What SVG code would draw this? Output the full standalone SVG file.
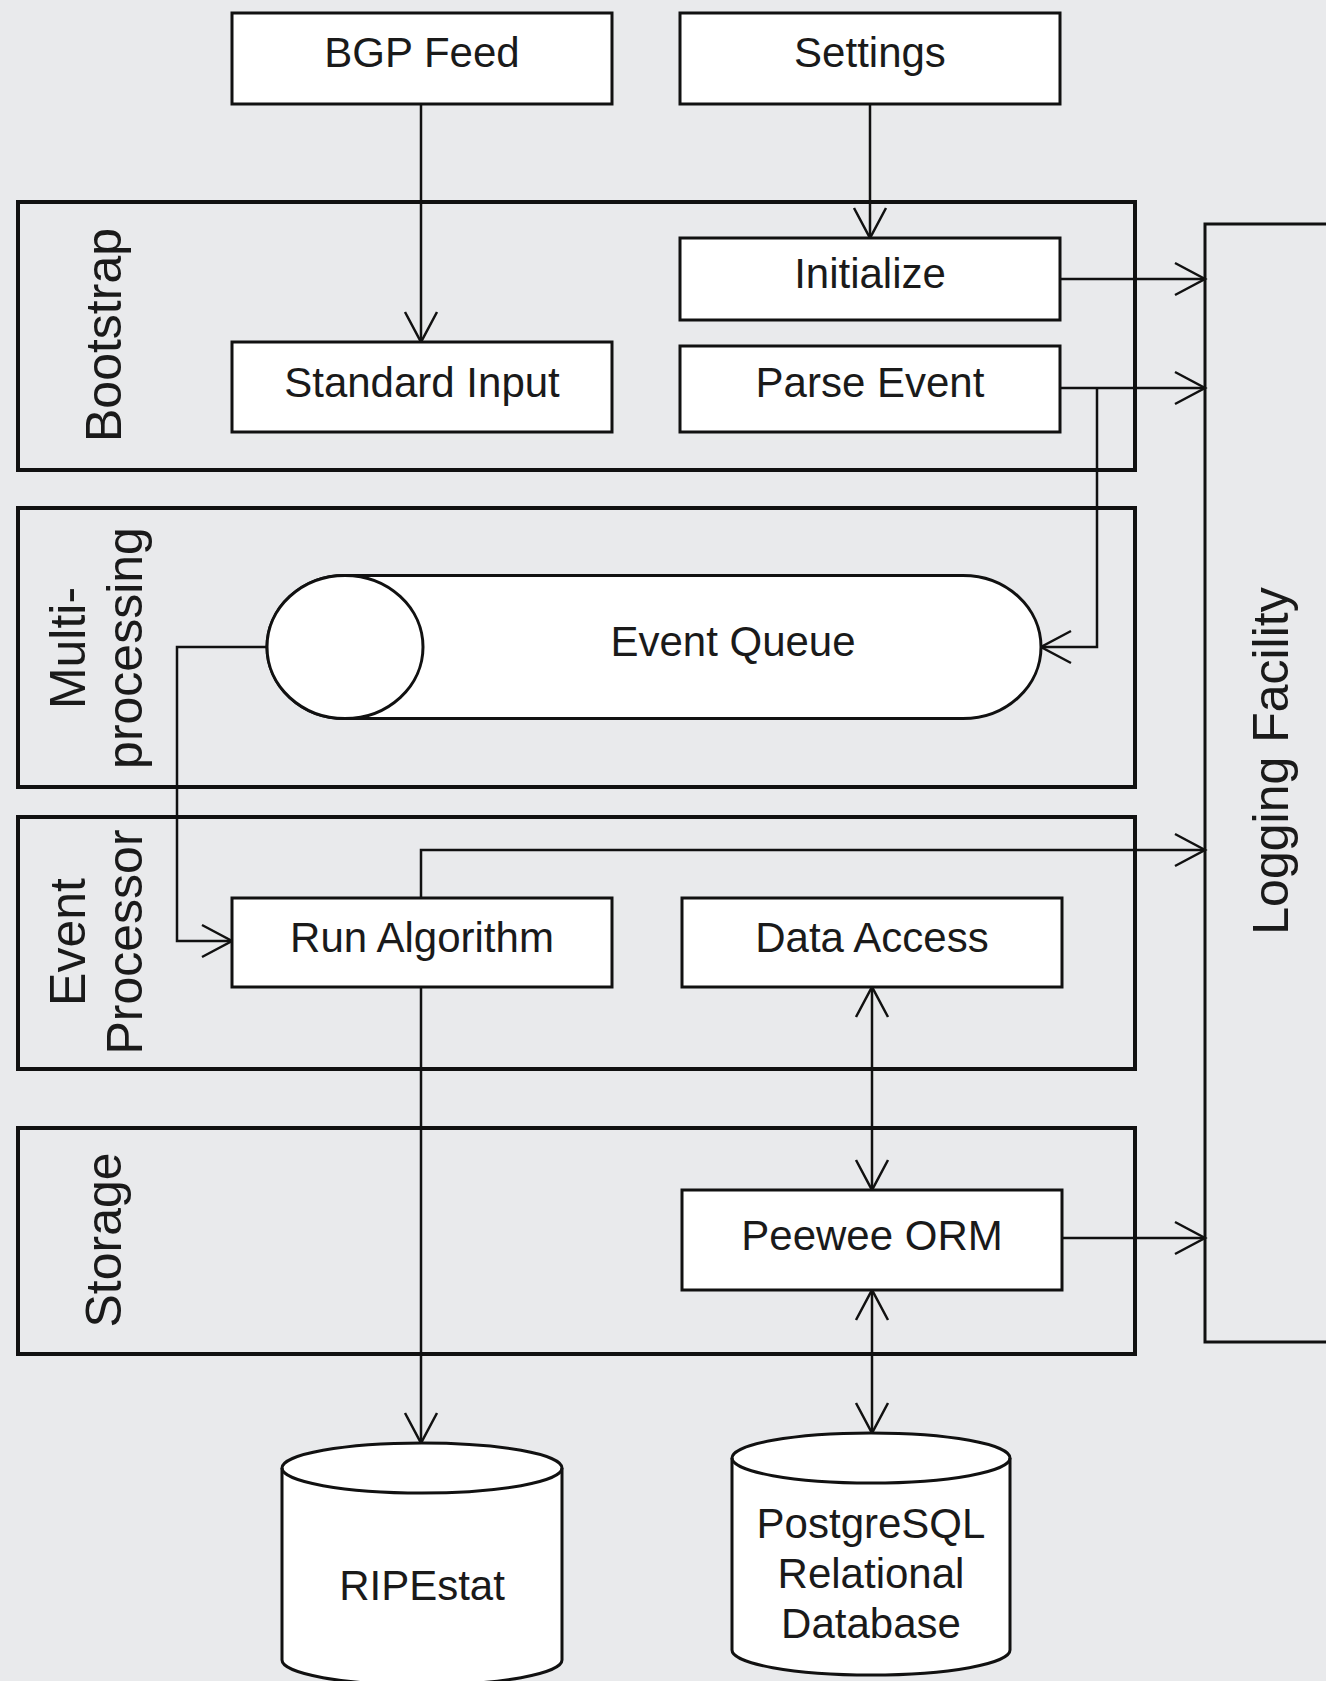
<svg xmlns="http://www.w3.org/2000/svg" width="1326" height="1681" viewBox="0 0 1326 1681">
<defs>
<style>
.bg{fill:#e9eaec}
.cont{fill:none;stroke:#111;stroke-width:4}
.box{fill:#fff;stroke:#111;stroke-width:3}
.lbl{font-family:"Liberation Sans",Arial,sans-serif;font-size:42px;fill:#1a1a1a;text-anchor:middle}
.sec{font-family:"Liberation Sans",Arial,sans-serif;font-size:50px;fill:#1a1a1a;text-anchor:middle}
.con{fill:none;stroke:#111;stroke-width:2.5}
.arr{marker-end:url(#ah)}
.bi{marker-start:url(#ah);marker-end:url(#ah)}
</style>
<marker id="ah" viewBox="-33 -19 36 38" refX="0" refY="0" markerWidth="36" markerHeight="38" markerUnits="userSpaceOnUse" orient="auto-start-reverse">
<path d="M-30,-16 L0,0 L-30,16" fill="none" stroke="#111" stroke-width="2.5"/>
</marker>
</defs>
<rect class="bg" x="0" y="0" width="1326" height="1681"/>

<g id="bootstrap">
<rect class="cont" x="18" y="202" width="1117" height="268"/>
<text class="sec" transform="translate(121,335) rotate(-90)">Bootstrap</text>
</g>
<g id="multiprocessing">
<rect class="cont" x="18" y="508" width="1117" height="279"/>
<text class="sec" transform="translate(85,648) rotate(-90)">Multi-</text>
<text class="sec" transform="translate(142,648) rotate(-90)">processing</text>
</g>
<g id="eventprocessor">
<rect class="cont" x="18" y="817" width="1117" height="252"/>
<text class="sec" transform="translate(85,942) rotate(-90)">Event</text>
<text class="sec" transform="translate(142,942) rotate(-90)">Processor</text>
</g>
<g id="storage">
<rect class="cont" x="18" y="1128" width="1117" height="226"/>
<text class="sec" transform="translate(121,1240) rotate(-90)">Storage</text>
</g>

<g id="connectors">
<path class="con arr" d="M421,104 L421,342"/>
<path class="con arr" d="M870,104 L870,238"/>
<path class="con arr" d="M1060,279 L1205,279"/>
<path class="con arr" d="M1060,388 L1205,388"/>
<path class="con arr" d="M1097,388 L1097,647 L1041,647"/>
<path class="con arr" d="M267,647 L177,647 L177,941 L232,941"/>
<path class="con arr" d="M421,898 L421,850 L1205,850"/>
<path class="con arr" d="M421,987 L421,1443"/>
<path class="con bi" d="M872,987 L872,1190"/>
<path class="con arr" d="M1062,1238 L1205,1238"/>
<path class="con bi" d="M872,1290 L872,1433"/>
</g>

<g id="bgpfeed">
<rect class="box" x="232" y="13" width="380" height="91"/>
<text class="lbl" x="422" y="67">BGP Feed</text>
</g>
<g id="settings">
<rect class="box" x="680" y="13" width="380" height="91"/>
<text class="lbl" x="870" y="67">Settings</text>
</g>
<g id="initialize">
<rect class="box" x="680" y="238" width="380" height="82"/>
<text class="lbl" x="870" y="288">Initialize</text>
</g>
<g id="standardinput">
<rect class="box" x="232" y="342" width="380" height="90"/>
<text class="lbl" x="422" y="397">Standard Input</text>
</g>
<g id="parseevent">
<rect class="box" x="680" y="346" width="380" height="86"/>
<text class="lbl" x="870" y="397">Parse Event</text>
</g>
<g id="eventqueue">
<path class="box" d="M345,575.5 L963,575.5 A78,71.5 0 0 1 963,718.5 L345,718.5 A78,71.5 0 0 1 345,575.5 Z"/>
<ellipse class="box" cx="345" cy="647" rx="78" ry="71.5"/>
<text class="lbl" x="733" y="656">Event Queue</text>
</g>
<g id="runalgorithm">
<rect class="box" x="232" y="898" width="380" height="89"/>
<text class="lbl" x="422" y="952">Run Algorithm</text>
</g>
<g id="dataaccess">
<rect class="box" x="682" y="898" width="380" height="89"/>
<text class="lbl" x="872" y="952">Data Access</text>
</g>
<g id="peewee">
<rect class="box" x="682" y="1190" width="380" height="100"/>
<text class="lbl" x="872" y="1250">Peewee ORM</text>
</g>
<g id="logging">
<rect class="box" x="1205" y="224" width="140" height="1118" style="fill:none"/>
<text class="sec" transform="translate(1288,761) rotate(-90)">Logging Facility</text>
</g>
<g id="ripestat">
<path class="box" d="M282,1468 A140,25 0 0 1 562,1468 L562,1660 A140,25 0 0 1 282,1660 Z"/>
<path class="box" style="fill:none" d="M282,1468 A140,25 0 0 0 562,1468"/>
<text class="lbl" x="422" y="1600">RIPEstat</text>
</g>
<g id="postgresql">
<path class="box" d="M732,1458 A139,25 0 0 1 1010,1458 L1010,1650 A139,25 0 0 1 732,1650 Z"/>
<path class="box" style="fill:none" d="M732,1458 A139,25 0 0 0 1010,1458"/>
<text class="lbl" x="871" y="1538">PostgreSQL</text>
<text class="lbl" x="871" y="1588">Relational</text>
<text class="lbl" x="871" y="1638">Database</text>
</g>
</svg>
